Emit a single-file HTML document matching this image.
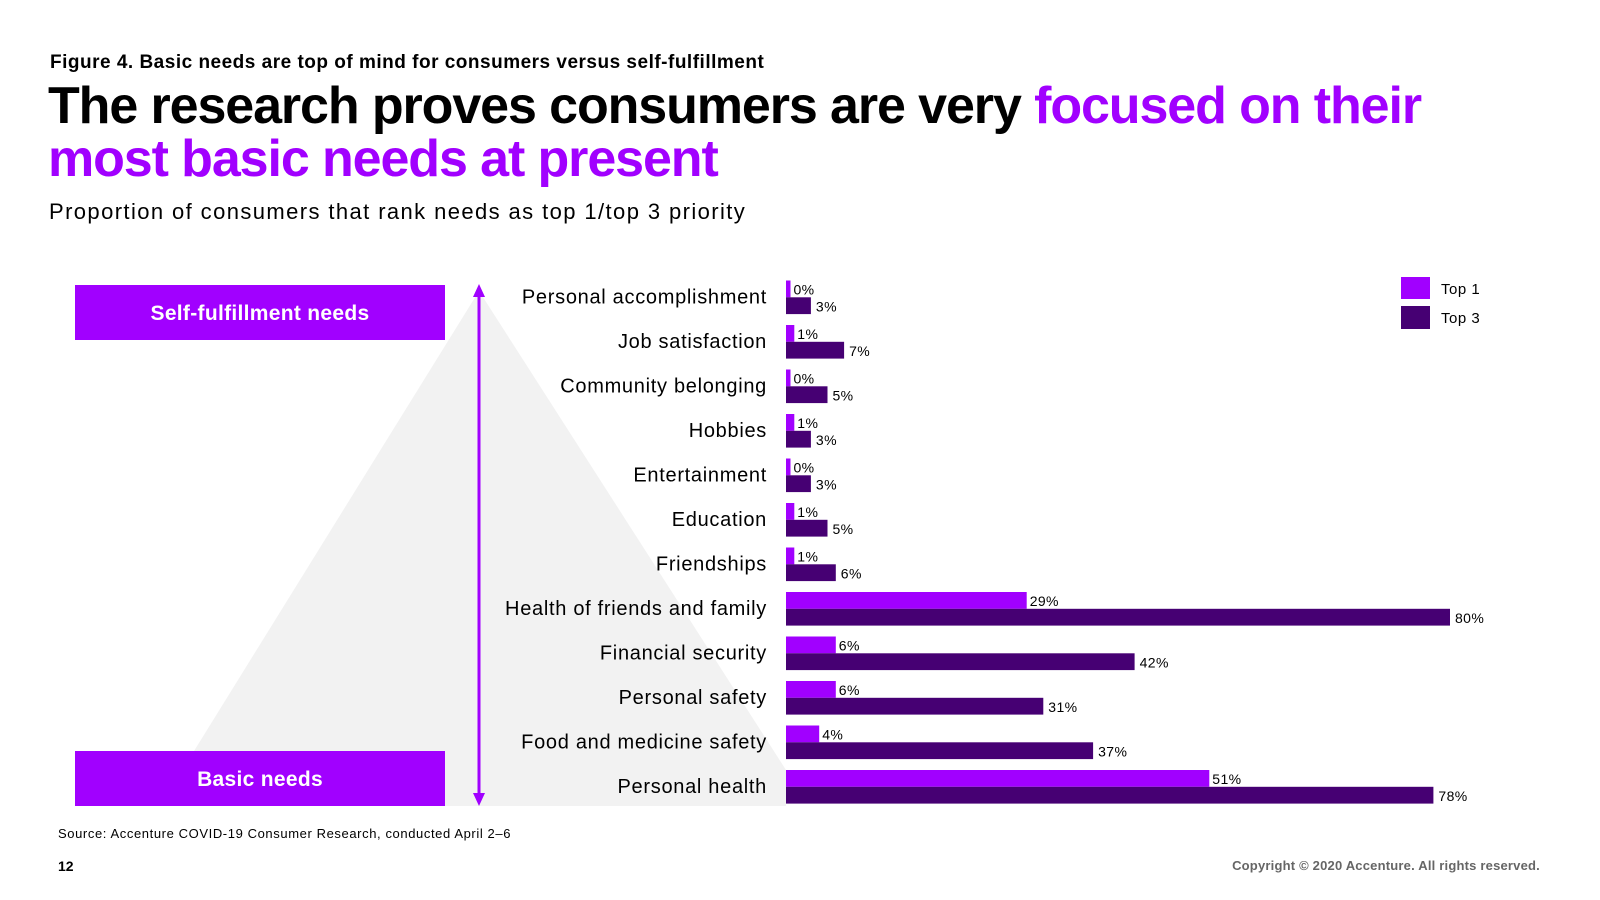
<!DOCTYPE html>
<html><head><meta charset="utf-8"><style>
body{margin:0;width:1600px;height:900px;background:#fff;font-family:"Liberation Sans",sans-serif;overflow:hidden;position:relative}
.abs{position:absolute;white-space:nowrap}
</style></head><body>
<div class="abs" style="left:50px;top:52px;font-size:19px;font-weight:bold;letter-spacing:0.5px">Figure 4. Basic needs are top of mind for consumers versus self-fulfillment</div>
<div class="abs" style="left:48px;top:80px;font-size:52px;font-weight:bold;letter-spacing:-1.1px;line-height:53px">The research proves consumers are very <span style="color:#a100ff">focused on their</span><br><span style="color:#a100ff">most basic needs at present</span></div>
<div class="abs" style="left:49px;top:199px;font-size:22px;letter-spacing:1.4px">Proportion of consumers that rank needs as top 1/top 3 priority</div>
<svg class="abs" style="left:0;top:0" width="1600" height="900">
<polygon points="479,291 194,751 445,751 445,806 786,806 786,770" fill="#f2f2f2"/>
<rect x="75" y="285" width="370" height="55" fill="#a100ff"/>
<text x="260" y="320" text-anchor="middle" fill="#fff" font-size="21" font-weight="bold" letter-spacing="0.3">Self-fulfillment needs</text>
<rect x="75" y="751" width="370" height="55" fill="#a100ff"/>
<text x="260" y="786" text-anchor="middle" fill="#fff" font-size="21" font-weight="bold" letter-spacing="0.3">Basic needs</text>
<line x1="479" y1="294" x2="479" y2="802" stroke="#a100ff" stroke-width="3"/>
<polygon points="479,284 473,297 485,297" fill="#a100ff"/>
<polygon points="479,806 473,793 485,793" fill="#a100ff"/>
<g id="bars"></g>
<rect x="1401" y="277" width="29" height="22" fill="#a100ff"/>
<text x="1441" y="294" font-size="15" letter-spacing="0.5">Top 1</text>
<rect x="1401" y="306" width="29" height="23" fill="#460073"/>
<text x="1441" y="323" font-size="15" letter-spacing="0.5">Top 3</text>
</svg>
<div class="abs" style="left:58px;top:826px;font-size:13px;letter-spacing:0.6px">Source: Accenture COVID-19 Consumer Research, conducted April 2–6</div>
<div class="abs" style="left:58px;top:858px;font-size:14px;font-weight:bold">12</div>
<div class="abs" style="right:60px;top:858px;font-size:13px;font-weight:bold;color:#666;letter-spacing:0.2px">Copyright © 2020 Accenture. All rights reserved.</div>
<script>
const categories=["Personal accomplishment","Job satisfaction","Community belonging","Hobbies","Entertainment","Education","Friendships","Health of friends and family","Financial security","Personal safety","Food and medicine safety","Personal health"];
const top1=[0,1,0,1,0,1,1,29,6,6,4,51];
const top3=[3,7,5,3,3,5,6,80,42,31,37,78];
const x0=786,pxPer=8.3,y0=280.5,pitch=44.5,bh=16.8;
const xs=v=>v*pxPer;
const g=document.getElementById('bars');
const NS='http://www.w3.org/2000/svg';
function mk(tag,attrs){const e=document.createElementNS(NS,tag);for(const k in attrs)e.setAttribute(k,attrs[k]);g.appendChild(e);return e;}
categories.forEach((c,i)=>{
  const y=y0+i*pitch;
  const t=mk('text',{x:767,y:y+bh+6,'text-anchor':'end','font-size':20,'letter-spacing':0.7});
  t.textContent=c;
  
  
  const w1=Math.max(xs(top1[i]),4.5);
  const r1=mk('rect',{x:x0,y:y,width:w1,height:bh,fill:'#a100ff'});
  
  
  const l1=mk('text',{x:x0+w1+3,y:y+14,'font-size':14,'letter-spacing':0.4});
  l1.textContent=top1[i]+'%';
  
  
  const w3=xs(top3[i]);
  const r3=mk('rect',{x:x0,y:y+bh,width:w3,height:bh,fill:'#460073'});
  
  
  const l3=mk('text',{x:x0+w3+5,y:y+bh+14,'font-size':14,'letter-spacing':0.4});
  l3.textContent=top3[i]+'%';
  
  
});
</script>
</body></html>
